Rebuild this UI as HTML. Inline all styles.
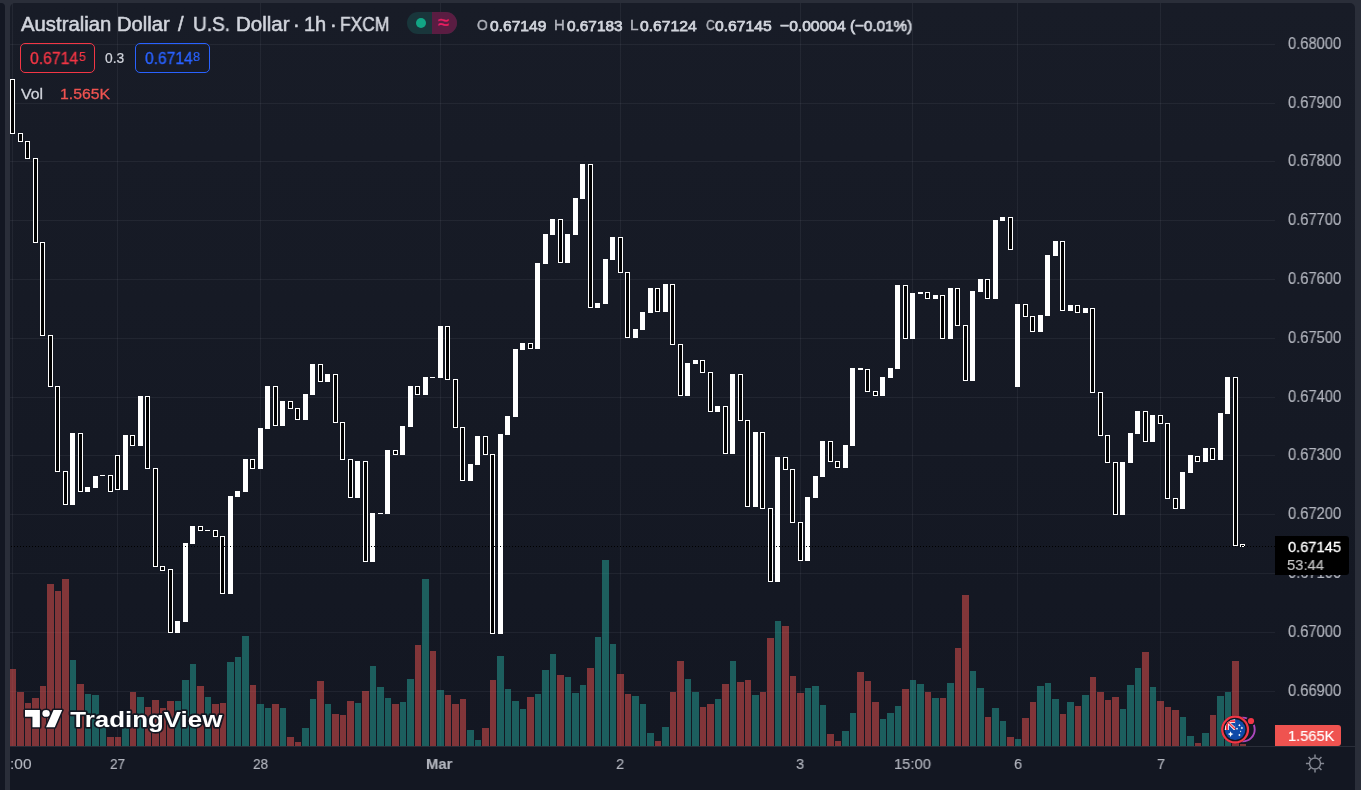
<!DOCTYPE html>
<html><head><meta charset="utf-8"><title>AUDUSD chart</title>
<style>
html,body{margin:0;padding:0}
body{width:1361px;height:790px;background:#2a2e39;overflow:hidden;position:relative;font-family:"Liberation Sans",sans-serif;color:#d1d4dc}
#left{position:absolute;left:0;top:3px;width:5px;height:787px;background:#131722;border-top-right-radius:4px}
#chart{position:absolute;left:10px;top:3px;width:1345px;height:787px;border-radius:5px 5px 0 0;overflow:hidden;background:linear-gradient(to bottom,#181c27 0px,#131722 743px,#131722 787px)}
#chart svg{position:absolute;left:-10px;top:-3px}
#sep{position:absolute;left:10px;top:746px;width:1345px;height:1px;background:#2a2e39}
.t{position:absolute;white-space:nowrap;transform-origin:0 0;display:block;will-change:transform}
#pill{position:absolute;left:407px;top:12px;width:50px;height:22px;border-radius:11px;overflow:hidden;background:#19363b}
#pill .r{position:absolute;left:25px;top:0;width:25px;height:22px;background:#5a1d42}
#pill .dot{position:absolute;left:9px;top:6px;width:10px;height:10px;border-radius:5px;background:#12a685}
#pill .ap{position:absolute;left:25px;top:0;width:23px;height:22px;text-align:center;font-size:20px;line-height:21px;color:#e91e63;-webkit-text-stroke:0.3px #e91e63}
.box{position:absolute;top:43px;height:28px;border:1px solid;border-radius:5px;box-sizing:content-box}
#bid{left:20px;width:73px;border-color:#f23645}
#ask{left:135px;width:73px;border-color:#2962ff}
#plabel{position:absolute;left:1275px;top:536px;width:74px;height:39px;background:#000;border-radius:0 3px 3px 0}
#vlabel{position:absolute;left:1275px;top:725px;width:66px;height:21px;background:#ef5350;border-radius:0 3px 3px 0}
</style></head><body>
<div id="left"></div>
<div id="chart">
<svg width="1361" height="790" viewBox="0 0 1361 790" shape-rendering="crispEdges">
<rect x="10" y="44" width="1265" height="1" fill="rgba(240,243,250,0.06)"/>
<rect x="10" y="103" width="1265" height="1" fill="rgba(240,243,250,0.06)"/>
<rect x="10" y="161" width="1265" height="1" fill="rgba(240,243,250,0.06)"/>
<rect x="10" y="220" width="1265" height="1" fill="rgba(240,243,250,0.06)"/>
<rect x="10" y="279" width="1265" height="1" fill="rgba(240,243,250,0.06)"/>
<rect x="10" y="338" width="1265" height="1" fill="rgba(240,243,250,0.06)"/>
<rect x="10" y="397" width="1265" height="1" fill="rgba(240,243,250,0.06)"/>
<rect x="10" y="455" width="1265" height="1" fill="rgba(240,243,250,0.06)"/>
<rect x="10" y="514" width="1265" height="1" fill="rgba(240,243,250,0.06)"/>
<rect x="10" y="573" width="1265" height="1" fill="rgba(240,243,250,0.06)"/>
<rect x="10" y="632" width="1265" height="1" fill="rgba(240,243,250,0.06)"/>
<rect x="10" y="691" width="1265" height="1" fill="rgba(240,243,250,0.06)"/>
<rect x="12" y="3" width="1" height="743" fill="rgba(240,243,250,0.06)"/>
<rect x="117" y="3" width="1" height="743" fill="rgba(240,243,250,0.06)"/>
<rect x="260" y="3" width="1" height="743" fill="rgba(240,243,250,0.06)"/>
<rect x="440" y="3" width="1" height="743" fill="rgba(240,243,250,0.06)"/>
<rect x="620" y="3" width="1" height="743" fill="rgba(240,243,250,0.06)"/>
<rect x="800" y="3" width="1" height="743" fill="rgba(240,243,250,0.06)"/>
<rect x="912" y="3" width="1" height="743" fill="rgba(240,243,250,0.06)"/>
<rect x="1017" y="3" width="1" height="743" fill="rgba(240,243,250,0.06)"/>
<rect x="1160" y="3" width="1" height="743" fill="rgba(240,243,250,0.06)"/>
<rect x="10" y="669" width="6" height="77" fill="#ef5350" fill-opacity="0.5"/>
<rect x="17" y="692" width="7" height="54" fill="#ef5350" fill-opacity="0.5"/>
<rect x="25" y="703" width="6" height="43" fill="#ef5350" fill-opacity="0.5"/>
<rect x="32" y="698" width="7" height="48" fill="#ef5350" fill-opacity="0.5"/>
<rect x="40" y="686" width="6" height="60" fill="#ef5350" fill-opacity="0.5"/>
<rect x="47" y="584" width="7" height="162" fill="#ef5350" fill-opacity="0.5"/>
<rect x="55" y="591" width="6" height="155" fill="#ef5350" fill-opacity="0.5"/>
<rect x="62" y="579" width="7" height="167" fill="#ef5350" fill-opacity="0.5"/>
<rect x="70" y="660" width="6" height="86" fill="#26a69a" fill-opacity="0.5"/>
<rect x="77" y="684" width="7" height="62" fill="#ef5350" fill-opacity="0.5"/>
<rect x="85" y="694" width="6" height="52" fill="#26a69a" fill-opacity="0.5"/>
<rect x="92" y="695" width="7" height="51" fill="#26a69a" fill-opacity="0.5"/>
<rect x="100" y="717" width="6" height="29" fill="#26a69a" fill-opacity="0.5"/>
<rect x="107" y="737" width="7" height="9" fill="#ef5350" fill-opacity="0.5"/>
<rect x="115" y="737" width="6" height="9" fill="#ef5350" fill-opacity="0.5"/>
<rect x="122" y="719" width="7" height="27" fill="#26a69a" fill-opacity="0.5"/>
<rect x="130" y="692" width="6" height="54" fill="#ef5350" fill-opacity="0.5"/>
<rect x="137" y="697" width="7" height="49" fill="#26a69a" fill-opacity="0.5"/>
<rect x="145" y="707" width="6" height="39" fill="#ef5350" fill-opacity="0.5"/>
<rect x="152" y="700" width="7" height="46" fill="#ef5350" fill-opacity="0.5"/>
<rect x="160" y="708" width="6" height="38" fill="#ef5350" fill-opacity="0.5"/>
<rect x="167" y="701" width="7" height="45" fill="#ef5350" fill-opacity="0.5"/>
<rect x="175" y="701" width="6" height="45" fill="#26a69a" fill-opacity="0.5"/>
<rect x="182" y="680" width="7" height="66" fill="#26a69a" fill-opacity="0.5"/>
<rect x="190" y="664" width="6" height="82" fill="#26a69a" fill-opacity="0.5"/>
<rect x="197" y="686" width="7" height="60" fill="#ef5350" fill-opacity="0.5"/>
<rect x="205" y="697" width="6" height="49" fill="#26a69a" fill-opacity="0.5"/>
<rect x="212" y="704" width="7" height="42" fill="#ef5350" fill-opacity="0.5"/>
<rect x="220" y="703" width="6" height="43" fill="#ef5350" fill-opacity="0.5"/>
<rect x="227" y="662" width="7" height="84" fill="#26a69a" fill-opacity="0.5"/>
<rect x="235" y="657" width="6" height="89" fill="#26a69a" fill-opacity="0.5"/>
<rect x="242" y="636" width="7" height="110" fill="#26a69a" fill-opacity="0.5"/>
<rect x="250" y="685" width="6" height="61" fill="#ef5350" fill-opacity="0.5"/>
<rect x="257" y="704" width="7" height="42" fill="#26a69a" fill-opacity="0.5"/>
<rect x="265" y="708" width="6" height="38" fill="#26a69a" fill-opacity="0.5"/>
<rect x="272" y="704" width="7" height="42" fill="#ef5350" fill-opacity="0.5"/>
<rect x="280" y="708" width="6" height="38" fill="#26a69a" fill-opacity="0.5"/>
<rect x="287" y="737" width="7" height="9" fill="#ef5350" fill-opacity="0.5"/>
<rect x="295" y="742" width="6" height="4" fill="#ef5350" fill-opacity="0.5"/>
<rect x="302" y="728" width="7" height="18" fill="#26a69a" fill-opacity="0.5"/>
<rect x="310" y="699" width="6" height="47" fill="#26a69a" fill-opacity="0.5"/>
<rect x="317" y="681" width="7" height="65" fill="#ef5350" fill-opacity="0.5"/>
<rect x="325" y="704" width="6" height="42" fill="#26a69a" fill-opacity="0.5"/>
<rect x="332" y="714" width="7" height="32" fill="#ef5350" fill-opacity="0.5"/>
<rect x="340" y="715" width="6" height="31" fill="#ef5350" fill-opacity="0.5"/>
<rect x="347" y="701" width="7" height="45" fill="#ef5350" fill-opacity="0.5"/>
<rect x="355" y="703" width="6" height="43" fill="#26a69a" fill-opacity="0.5"/>
<rect x="362" y="691" width="7" height="55" fill="#ef5350" fill-opacity="0.5"/>
<rect x="370" y="666" width="6" height="80" fill="#26a69a" fill-opacity="0.5"/>
<rect x="377" y="687" width="7" height="59" fill="#26a69a" fill-opacity="0.5"/>
<rect x="385" y="698" width="6" height="48" fill="#26a69a" fill-opacity="0.5"/>
<rect x="392" y="704" width="7" height="42" fill="#ef5350" fill-opacity="0.5"/>
<rect x="400" y="702" width="6" height="44" fill="#26a69a" fill-opacity="0.5"/>
<rect x="407" y="679" width="7" height="67" fill="#26a69a" fill-opacity="0.5"/>
<rect x="415" y="645" width="6" height="101" fill="#ef5350" fill-opacity="0.5"/>
<rect x="422" y="579" width="7" height="167" fill="#26a69a" fill-opacity="0.5"/>
<rect x="430" y="651" width="6" height="95" fill="#ef5350" fill-opacity="0.5"/>
<rect x="437" y="690" width="7" height="56" fill="#26a69a" fill-opacity="0.5"/>
<rect x="445" y="695" width="6" height="51" fill="#ef5350" fill-opacity="0.5"/>
<rect x="452" y="704" width="7" height="42" fill="#ef5350" fill-opacity="0.5"/>
<rect x="460" y="699" width="6" height="47" fill="#ef5350" fill-opacity="0.5"/>
<rect x="467" y="730" width="7" height="16" fill="#26a69a" fill-opacity="0.5"/>
<rect x="475" y="740" width="6" height="6" fill="#26a69a" fill-opacity="0.5"/>
<rect x="482" y="728" width="7" height="18" fill="#ef5350" fill-opacity="0.5"/>
<rect x="490" y="680" width="6" height="66" fill="#ef5350" fill-opacity="0.5"/>
<rect x="497" y="656" width="7" height="90" fill="#26a69a" fill-opacity="0.5"/>
<rect x="505" y="689" width="6" height="57" fill="#26a69a" fill-opacity="0.5"/>
<rect x="512" y="701" width="7" height="45" fill="#26a69a" fill-opacity="0.5"/>
<rect x="520" y="709" width="6" height="37" fill="#26a69a" fill-opacity="0.5"/>
<rect x="527" y="697" width="7" height="49" fill="#ef5350" fill-opacity="0.5"/>
<rect x="535" y="694" width="6" height="52" fill="#26a69a" fill-opacity="0.5"/>
<rect x="542" y="670" width="7" height="76" fill="#26a69a" fill-opacity="0.5"/>
<rect x="550" y="654" width="6" height="92" fill="#26a69a" fill-opacity="0.5"/>
<rect x="557" y="675" width="7" height="71" fill="#ef5350" fill-opacity="0.5"/>
<rect x="565" y="677" width="6" height="69" fill="#26a69a" fill-opacity="0.5"/>
<rect x="572" y="693" width="7" height="53" fill="#26a69a" fill-opacity="0.5"/>
<rect x="580" y="685" width="6" height="61" fill="#26a69a" fill-opacity="0.5"/>
<rect x="587" y="668" width="7" height="78" fill="#ef5350" fill-opacity="0.5"/>
<rect x="595" y="637" width="6" height="109" fill="#26a69a" fill-opacity="0.5"/>
<rect x="602" y="560" width="7" height="186" fill="#26a69a" fill-opacity="0.5"/>
<rect x="610" y="644" width="6" height="102" fill="#26a69a" fill-opacity="0.5"/>
<rect x="617" y="674" width="7" height="72" fill="#ef5350" fill-opacity="0.5"/>
<rect x="625" y="694" width="6" height="52" fill="#ef5350" fill-opacity="0.5"/>
<rect x="632" y="696" width="7" height="50" fill="#26a69a" fill-opacity="0.5"/>
<rect x="640" y="704" width="6" height="42" fill="#26a69a" fill-opacity="0.5"/>
<rect x="647" y="733" width="7" height="13" fill="#26a69a" fill-opacity="0.5"/>
<rect x="655" y="741" width="6" height="5" fill="#ef5350" fill-opacity="0.5"/>
<rect x="662" y="727" width="7" height="19" fill="#26a69a" fill-opacity="0.5"/>
<rect x="670" y="692" width="6" height="54" fill="#ef5350" fill-opacity="0.5"/>
<rect x="677" y="661" width="7" height="85" fill="#ef5350" fill-opacity="0.5"/>
<rect x="685" y="679" width="6" height="67" fill="#26a69a" fill-opacity="0.5"/>
<rect x="692" y="692" width="7" height="54" fill="#26a69a" fill-opacity="0.5"/>
<rect x="700" y="707" width="6" height="39" fill="#ef5350" fill-opacity="0.5"/>
<rect x="707" y="704" width="7" height="42" fill="#ef5350" fill-opacity="0.5"/>
<rect x="715" y="699" width="6" height="47" fill="#26a69a" fill-opacity="0.5"/>
<rect x="722" y="684" width="7" height="62" fill="#ef5350" fill-opacity="0.5"/>
<rect x="730" y="661" width="6" height="85" fill="#26a69a" fill-opacity="0.5"/>
<rect x="737" y="682" width="7" height="64" fill="#ef5350" fill-opacity="0.5"/>
<rect x="745" y="680" width="6" height="66" fill="#ef5350" fill-opacity="0.5"/>
<rect x="752" y="695" width="7" height="51" fill="#26a69a" fill-opacity="0.5"/>
<rect x="760" y="692" width="6" height="54" fill="#ef5350" fill-opacity="0.5"/>
<rect x="767" y="638" width="7" height="108" fill="#ef5350" fill-opacity="0.5"/>
<rect x="775" y="621" width="6" height="125" fill="#26a69a" fill-opacity="0.5"/>
<rect x="782" y="626" width="7" height="120" fill="#ef5350" fill-opacity="0.5"/>
<rect x="790" y="676" width="6" height="70" fill="#ef5350" fill-opacity="0.5"/>
<rect x="797" y="693" width="7" height="53" fill="#ef5350" fill-opacity="0.5"/>
<rect x="805" y="688" width="6" height="58" fill="#26a69a" fill-opacity="0.5"/>
<rect x="812" y="686" width="7" height="60" fill="#26a69a" fill-opacity="0.5"/>
<rect x="820" y="705" width="6" height="41" fill="#26a69a" fill-opacity="0.5"/>
<rect x="827" y="734" width="7" height="12" fill="#ef5350" fill-opacity="0.5"/>
<rect x="835" y="741" width="6" height="5" fill="#ef5350" fill-opacity="0.5"/>
<rect x="842" y="731" width="7" height="15" fill="#26a69a" fill-opacity="0.5"/>
<rect x="850" y="713" width="6" height="33" fill="#26a69a" fill-opacity="0.5"/>
<rect x="857" y="672" width="7" height="74" fill="#ef5350" fill-opacity="0.5"/>
<rect x="865" y="681" width="6" height="65" fill="#ef5350" fill-opacity="0.5"/>
<rect x="872" y="702" width="7" height="44" fill="#ef5350" fill-opacity="0.5"/>
<rect x="880" y="719" width="6" height="27" fill="#26a69a" fill-opacity="0.5"/>
<rect x="887" y="713" width="7" height="33" fill="#26a69a" fill-opacity="0.5"/>
<rect x="895" y="706" width="6" height="40" fill="#26a69a" fill-opacity="0.5"/>
<rect x="902" y="689" width="7" height="57" fill="#ef5350" fill-opacity="0.5"/>
<rect x="910" y="680" width="6" height="66" fill="#26a69a" fill-opacity="0.5"/>
<rect x="917" y="684" width="7" height="62" fill="#26a69a" fill-opacity="0.5"/>
<rect x="925" y="692" width="6" height="54" fill="#ef5350" fill-opacity="0.5"/>
<rect x="932" y="698" width="7" height="48" fill="#26a69a" fill-opacity="0.5"/>
<rect x="940" y="698" width="6" height="48" fill="#ef5350" fill-opacity="0.5"/>
<rect x="947" y="683" width="7" height="63" fill="#26a69a" fill-opacity="0.5"/>
<rect x="955" y="648" width="6" height="98" fill="#ef5350" fill-opacity="0.5"/>
<rect x="962" y="595" width="7" height="151" fill="#ef5350" fill-opacity="0.5"/>
<rect x="970" y="671" width="6" height="75" fill="#26a69a" fill-opacity="0.5"/>
<rect x="977" y="688" width="7" height="58" fill="#26a69a" fill-opacity="0.5"/>
<rect x="985" y="717" width="6" height="29" fill="#ef5350" fill-opacity="0.5"/>
<rect x="992" y="708" width="7" height="38" fill="#26a69a" fill-opacity="0.5"/>
<rect x="1000" y="721" width="6" height="25" fill="#26a69a" fill-opacity="0.5"/>
<rect x="1007" y="737" width="7" height="9" fill="#ef5350" fill-opacity="0.5"/>
<rect x="1015" y="739" width="6" height="7" fill="#26a69a" fill-opacity="0.5"/>
<rect x="1022" y="718" width="7" height="28" fill="#ef5350" fill-opacity="0.5"/>
<rect x="1030" y="702" width="6" height="44" fill="#ef5350" fill-opacity="0.5"/>
<rect x="1037" y="686" width="7" height="60" fill="#26a69a" fill-opacity="0.5"/>
<rect x="1045" y="683" width="6" height="63" fill="#26a69a" fill-opacity="0.5"/>
<rect x="1052" y="699" width="7" height="47" fill="#26a69a" fill-opacity="0.5"/>
<rect x="1060" y="714" width="6" height="32" fill="#ef5350" fill-opacity="0.5"/>
<rect x="1067" y="702" width="7" height="44" fill="#26a69a" fill-opacity="0.5"/>
<rect x="1075" y="706" width="6" height="40" fill="#ef5350" fill-opacity="0.5"/>
<rect x="1082" y="695" width="7" height="51" fill="#26a69a" fill-opacity="0.5"/>
<rect x="1090" y="677" width="6" height="69" fill="#ef5350" fill-opacity="0.5"/>
<rect x="1097" y="692" width="7" height="54" fill="#ef5350" fill-opacity="0.5"/>
<rect x="1105" y="700" width="6" height="46" fill="#ef5350" fill-opacity="0.5"/>
<rect x="1112" y="697" width="7" height="49" fill="#ef5350" fill-opacity="0.5"/>
<rect x="1120" y="709" width="6" height="37" fill="#26a69a" fill-opacity="0.5"/>
<rect x="1127" y="685" width="7" height="61" fill="#26a69a" fill-opacity="0.5"/>
<rect x="1135" y="668" width="6" height="78" fill="#26a69a" fill-opacity="0.5"/>
<rect x="1142" y="652" width="7" height="94" fill="#ef5350" fill-opacity="0.5"/>
<rect x="1150" y="687" width="6" height="59" fill="#26a69a" fill-opacity="0.5"/>
<rect x="1157" y="701" width="7" height="45" fill="#ef5350" fill-opacity="0.5"/>
<rect x="1165" y="707" width="6" height="39" fill="#ef5350" fill-opacity="0.5"/>
<rect x="1172" y="710" width="7" height="36" fill="#ef5350" fill-opacity="0.5"/>
<rect x="1180" y="717" width="6" height="29" fill="#26a69a" fill-opacity="0.5"/>
<rect x="1187" y="736" width="7" height="10" fill="#26a69a" fill-opacity="0.5"/>
<rect x="1195" y="743" width="6" height="3" fill="#ef5350" fill-opacity="0.5"/>
<rect x="1202" y="733" width="7" height="13" fill="#26a69a" fill-opacity="0.5"/>
<rect x="1210" y="715" width="6" height="31" fill="#ef5350" fill-opacity="0.5"/>
<rect x="1217" y="696" width="7" height="50" fill="#26a69a" fill-opacity="0.5"/>
<rect x="1225" y="692" width="6" height="54" fill="#26a69a" fill-opacity="0.5"/>
<rect x="1232" y="661" width="7" height="85" fill="#ef5350" fill-opacity="0.5"/>
<rect x="1240" y="744" width="6" height="2" fill="#ef5350" fill-opacity="0.5"/>
<rect x="10" y="79" width="5" height="55" fill="#fff"/>
<rect x="11" y="80" width="3" height="53" fill="#000"/>
<rect x="18" y="133" width="5" height="9" fill="#fff"/>
<rect x="19" y="134" width="3" height="7" fill="#000"/>
<rect x="25" y="141" width="5" height="18" fill="#fff"/>
<rect x="26" y="142" width="3" height="16" fill="#000"/>
<rect x="33" y="158" width="5" height="85" fill="#fff"/>
<rect x="34" y="159" width="3" height="83" fill="#000"/>
<rect x="40" y="242" width="5" height="94" fill="#fff"/>
<rect x="41" y="243" width="3" height="92" fill="#000"/>
<rect x="48" y="335" width="5" height="52" fill="#fff"/>
<rect x="49" y="336" width="3" height="50" fill="#000"/>
<rect x="55" y="386" width="5" height="86" fill="#fff"/>
<rect x="56" y="387" width="3" height="84" fill="#000"/>
<rect x="63" y="471" width="5" height="34" fill="#fff"/>
<rect x="64" y="472" width="3" height="32" fill="#000"/>
<rect x="70" y="433" width="5" height="72" fill="#fff"/>
<rect x="78" y="433" width="5" height="59" fill="#fff"/>
<rect x="79" y="434" width="3" height="57" fill="#000"/>
<rect x="85" y="487" width="5" height="5" fill="#fff"/>
<rect x="93" y="476" width="5" height="12" fill="#fff"/>
<rect x="100" y="475" width="5" height="1" fill="#fff"/>
<rect x="108" y="475" width="5" height="17" fill="#fff"/>
<rect x="109" y="476" width="3" height="15" fill="#000"/>
<rect x="115" y="455" width="5" height="35" fill="#fff"/>
<rect x="116" y="456" width="3" height="33" fill="#000"/>
<rect x="123" y="435" width="5" height="55" fill="#fff"/>
<rect x="130" y="435" width="5" height="11" fill="#fff"/>
<rect x="131" y="436" width="3" height="9" fill="#000"/>
<rect x="138" y="396" width="5" height="50" fill="#fff"/>
<rect x="145" y="396" width="5" height="73" fill="#fff"/>
<rect x="146" y="397" width="3" height="71" fill="#000"/>
<rect x="153" y="468" width="5" height="99" fill="#fff"/>
<rect x="154" y="469" width="3" height="97" fill="#000"/>
<rect x="160" y="566" width="5" height="5" fill="#fff"/>
<rect x="161" y="567" width="3" height="3" fill="#000"/>
<rect x="168" y="569" width="5" height="64" fill="#fff"/>
<rect x="169" y="570" width="3" height="62" fill="#000"/>
<rect x="175" y="621" width="5" height="12" fill="#fff"/>
<rect x="183" y="543" width="5" height="79" fill="#fff"/>
<rect x="190" y="526" width="5" height="18" fill="#fff"/>
<rect x="198" y="526" width="5" height="5" fill="#fff"/>
<rect x="199" y="527" width="3" height="3" fill="#000"/>
<rect x="205" y="530" width="5" height="1" fill="#fff"/>
<rect x="213" y="530" width="5" height="7" fill="#fff"/>
<rect x="214" y="531" width="3" height="5" fill="#000"/>
<rect x="220" y="536" width="5" height="58" fill="#fff"/>
<rect x="221" y="537" width="3" height="56" fill="#000"/>
<rect x="228" y="496" width="5" height="98" fill="#fff"/>
<rect x="235" y="491" width="5" height="6" fill="#fff"/>
<rect x="243" y="459" width="5" height="33" fill="#fff"/>
<rect x="250" y="459" width="5" height="10" fill="#fff"/>
<rect x="251" y="460" width="3" height="8" fill="#000"/>
<rect x="258" y="428" width="5" height="41" fill="#fff"/>
<rect x="265" y="386" width="5" height="43" fill="#fff"/>
<rect x="273" y="386" width="5" height="40" fill="#fff"/>
<rect x="274" y="387" width="3" height="38" fill="#000"/>
<rect x="280" y="401" width="5" height="25" fill="#fff"/>
<rect x="288" y="401" width="5" height="8" fill="#fff"/>
<rect x="289" y="402" width="3" height="6" fill="#000"/>
<rect x="295" y="408" width="5" height="12" fill="#fff"/>
<rect x="296" y="409" width="3" height="10" fill="#000"/>
<rect x="303" y="394" width="5" height="26" fill="#fff"/>
<rect x="310" y="364" width="5" height="31" fill="#fff"/>
<rect x="318" y="364" width="5" height="18" fill="#fff"/>
<rect x="319" y="365" width="3" height="16" fill="#000"/>
<rect x="325" y="374" width="5" height="8" fill="#fff"/>
<rect x="333" y="374" width="5" height="49" fill="#fff"/>
<rect x="334" y="375" width="3" height="47" fill="#000"/>
<rect x="340" y="422" width="5" height="38" fill="#fff"/>
<rect x="341" y="423" width="3" height="36" fill="#000"/>
<rect x="348" y="459" width="5" height="39" fill="#fff"/>
<rect x="349" y="460" width="3" height="37" fill="#000"/>
<rect x="355" y="461" width="5" height="37" fill="#fff"/>
<rect x="363" y="461" width="5" height="101" fill="#fff"/>
<rect x="364" y="462" width="3" height="99" fill="#000"/>
<rect x="370" y="513" width="5" height="49" fill="#fff"/>
<rect x="378" y="513" width="5" height="1" fill="#fff"/>
<rect x="385" y="450" width="5" height="64" fill="#fff"/>
<rect x="393" y="450" width="5" height="5" fill="#fff"/>
<rect x="394" y="451" width="3" height="3" fill="#000"/>
<rect x="400" y="426" width="5" height="29" fill="#fff"/>
<rect x="408" y="386" width="5" height="41" fill="#fff"/>
<rect x="415" y="386" width="5" height="9" fill="#fff"/>
<rect x="416" y="387" width="3" height="7" fill="#000"/>
<rect x="423" y="377" width="5" height="18" fill="#fff"/>
<rect x="430" y="377" width="5" height="1" fill="#fff"/>
<rect x="438" y="326" width="5" height="52" fill="#fff"/>
<rect x="445" y="326" width="5" height="54" fill="#fff"/>
<rect x="446" y="327" width="3" height="52" fill="#000"/>
<rect x="453" y="379" width="5" height="49" fill="#fff"/>
<rect x="454" y="380" width="3" height="47" fill="#000"/>
<rect x="460" y="427" width="5" height="54" fill="#fff"/>
<rect x="461" y="428" width="3" height="52" fill="#000"/>
<rect x="468" y="464" width="5" height="17" fill="#fff"/>
<rect x="475" y="436" width="5" height="29" fill="#fff"/>
<rect x="483" y="436" width="5" height="19" fill="#fff"/>
<rect x="484" y="437" width="3" height="17" fill="#000"/>
<rect x="490" y="454" width="5" height="180" fill="#fff"/>
<rect x="491" y="455" width="3" height="178" fill="#000"/>
<rect x="498" y="434" width="5" height="200" fill="#fff"/>
<rect x="505" y="416" width="5" height="19" fill="#fff"/>
<rect x="513" y="349" width="5" height="68" fill="#fff"/>
<rect x="520" y="343" width="5" height="7" fill="#fff"/>
<rect x="528" y="343" width="5" height="6" fill="#fff"/>
<rect x="529" y="344" width="3" height="4" fill="#000"/>
<rect x="535" y="263" width="5" height="86" fill="#fff"/>
<rect x="543" y="234" width="5" height="30" fill="#fff"/>
<rect x="550" y="219" width="5" height="16" fill="#fff"/>
<rect x="558" y="219" width="5" height="44" fill="#fff"/>
<rect x="559" y="220" width="3" height="42" fill="#000"/>
<rect x="565" y="234" width="5" height="29" fill="#fff"/>
<rect x="573" y="198" width="5" height="37" fill="#fff"/>
<rect x="580" y="164" width="5" height="35" fill="#fff"/>
<rect x="588" y="164" width="5" height="144" fill="#fff"/>
<rect x="589" y="165" width="3" height="142" fill="#000"/>
<rect x="595" y="303" width="5" height="5" fill="#fff"/>
<rect x="603" y="259" width="5" height="45" fill="#fff"/>
<rect x="610" y="237" width="5" height="23" fill="#fff"/>
<rect x="618" y="237" width="5" height="36" fill="#fff"/>
<rect x="619" y="238" width="3" height="34" fill="#000"/>
<rect x="625" y="272" width="5" height="66" fill="#fff"/>
<rect x="626" y="273" width="3" height="64" fill="#000"/>
<rect x="633" y="329" width="5" height="9" fill="#fff"/>
<rect x="640" y="312" width="5" height="18" fill="#fff"/>
<rect x="648" y="288" width="5" height="25" fill="#fff"/>
<rect x="655" y="288" width="5" height="24" fill="#fff"/>
<rect x="656" y="289" width="3" height="22" fill="#000"/>
<rect x="663" y="284" width="5" height="28" fill="#fff"/>
<rect x="670" y="284" width="5" height="61" fill="#fff"/>
<rect x="671" y="285" width="3" height="59" fill="#000"/>
<rect x="678" y="344" width="5" height="52" fill="#fff"/>
<rect x="679" y="345" width="3" height="50" fill="#000"/>
<rect x="685" y="363" width="5" height="33" fill="#fff"/>
<rect x="693" y="360" width="5" height="4" fill="#fff"/>
<rect x="700" y="360" width="5" height="13" fill="#fff"/>
<rect x="701" y="361" width="3" height="11" fill="#000"/>
<rect x="708" y="372" width="5" height="40" fill="#fff"/>
<rect x="709" y="373" width="3" height="38" fill="#000"/>
<rect x="715" y="406" width="5" height="6" fill="#fff"/>
<rect x="723" y="406" width="5" height="48" fill="#fff"/>
<rect x="724" y="407" width="3" height="46" fill="#000"/>
<rect x="730" y="374" width="5" height="80" fill="#fff"/>
<rect x="738" y="374" width="5" height="47" fill="#fff"/>
<rect x="739" y="375" width="3" height="45" fill="#000"/>
<rect x="745" y="420" width="5" height="87" fill="#fff"/>
<rect x="746" y="421" width="3" height="85" fill="#000"/>
<rect x="753" y="432" width="5" height="75" fill="#fff"/>
<rect x="760" y="432" width="5" height="77" fill="#fff"/>
<rect x="761" y="433" width="3" height="75" fill="#000"/>
<rect x="768" y="508" width="5" height="74" fill="#fff"/>
<rect x="769" y="509" width="3" height="72" fill="#000"/>
<rect x="775" y="457" width="5" height="125" fill="#fff"/>
<rect x="783" y="457" width="5" height="13" fill="#fff"/>
<rect x="784" y="458" width="3" height="11" fill="#000"/>
<rect x="790" y="469" width="5" height="54" fill="#fff"/>
<rect x="791" y="470" width="3" height="52" fill="#000"/>
<rect x="798" y="522" width="5" height="39" fill="#fff"/>
<rect x="799" y="523" width="3" height="37" fill="#000"/>
<rect x="805" y="497" width="5" height="64" fill="#fff"/>
<rect x="813" y="476" width="5" height="22" fill="#fff"/>
<rect x="820" y="441" width="5" height="36" fill="#fff"/>
<rect x="828" y="441" width="5" height="21" fill="#fff"/>
<rect x="829" y="442" width="3" height="19" fill="#000"/>
<rect x="835" y="461" width="5" height="7" fill="#fff"/>
<rect x="836" y="462" width="3" height="5" fill="#000"/>
<rect x="843" y="445" width="5" height="23" fill="#fff"/>
<rect x="850" y="368" width="5" height="78" fill="#fff"/>
<rect x="858" y="368" width="5" height="2" fill="#fff"/>
<rect x="865" y="369" width="5" height="23" fill="#fff"/>
<rect x="866" y="370" width="3" height="21" fill="#000"/>
<rect x="873" y="391" width="5" height="5" fill="#fff"/>
<rect x="874" y="392" width="3" height="3" fill="#000"/>
<rect x="880" y="377" width="5" height="19" fill="#fff"/>
<rect x="888" y="368" width="5" height="10" fill="#fff"/>
<rect x="895" y="285" width="5" height="84" fill="#fff"/>
<rect x="903" y="285" width="5" height="54" fill="#fff"/>
<rect x="904" y="286" width="3" height="52" fill="#000"/>
<rect x="910" y="293" width="5" height="46" fill="#fff"/>
<rect x="918" y="292" width="5" height="2" fill="#fff"/>
<rect x="925" y="292" width="5" height="7" fill="#fff"/>
<rect x="926" y="293" width="3" height="5" fill="#000"/>
<rect x="933" y="295" width="5" height="4" fill="#fff"/>
<rect x="940" y="295" width="5" height="44" fill="#fff"/>
<rect x="941" y="296" width="3" height="42" fill="#000"/>
<rect x="948" y="288" width="5" height="51" fill="#fff"/>
<rect x="955" y="288" width="5" height="38" fill="#fff"/>
<rect x="956" y="289" width="3" height="36" fill="#000"/>
<rect x="963" y="325" width="5" height="56" fill="#fff"/>
<rect x="964" y="326" width="3" height="54" fill="#000"/>
<rect x="970" y="291" width="5" height="90" fill="#fff"/>
<rect x="978" y="279" width="5" height="13" fill="#fff"/>
<rect x="985" y="279" width="5" height="20" fill="#fff"/>
<rect x="986" y="280" width="3" height="18" fill="#000"/>
<rect x="993" y="220" width="5" height="79" fill="#fff"/>
<rect x="1000" y="217" width="5" height="4" fill="#fff"/>
<rect x="1008" y="217" width="5" height="33" fill="#fff"/>
<rect x="1009" y="218" width="3" height="31" fill="#000"/>
<rect x="1015" y="304" width="5" height="83" fill="#fff"/>
<rect x="1023" y="304" width="5" height="13" fill="#fff"/>
<rect x="1024" y="305" width="3" height="11" fill="#000"/>
<rect x="1030" y="316" width="5" height="16" fill="#fff"/>
<rect x="1031" y="317" width="3" height="14" fill="#000"/>
<rect x="1038" y="315" width="5" height="17" fill="#fff"/>
<rect x="1045" y="255" width="5" height="61" fill="#fff"/>
<rect x="1053" y="241" width="5" height="15" fill="#fff"/>
<rect x="1060" y="241" width="5" height="70" fill="#fff"/>
<rect x="1061" y="242" width="3" height="68" fill="#000"/>
<rect x="1068" y="305" width="5" height="6" fill="#fff"/>
<rect x="1075" y="305" width="5" height="8" fill="#fff"/>
<rect x="1076" y="306" width="3" height="6" fill="#000"/>
<rect x="1083" y="308" width="5" height="5" fill="#fff"/>
<rect x="1090" y="308" width="5" height="85" fill="#fff"/>
<rect x="1091" y="309" width="3" height="83" fill="#000"/>
<rect x="1098" y="392" width="5" height="44" fill="#fff"/>
<rect x="1099" y="393" width="3" height="42" fill="#000"/>
<rect x="1105" y="435" width="5" height="28" fill="#fff"/>
<rect x="1106" y="436" width="3" height="26" fill="#000"/>
<rect x="1113" y="462" width="5" height="53" fill="#fff"/>
<rect x="1114" y="463" width="3" height="51" fill="#000"/>
<rect x="1120" y="462" width="5" height="53" fill="#fff"/>
<rect x="1128" y="433" width="5" height="30" fill="#fff"/>
<rect x="1135" y="411" width="5" height="23" fill="#fff"/>
<rect x="1143" y="411" width="5" height="31" fill="#fff"/>
<rect x="1144" y="412" width="3" height="29" fill="#000"/>
<rect x="1150" y="415" width="5" height="27" fill="#fff"/>
<rect x="1158" y="415" width="5" height="9" fill="#fff"/>
<rect x="1159" y="416" width="3" height="7" fill="#000"/>
<rect x="1165" y="423" width="5" height="76" fill="#fff"/>
<rect x="1166" y="424" width="3" height="74" fill="#000"/>
<rect x="1173" y="498" width="5" height="11" fill="#fff"/>
<rect x="1174" y="499" width="3" height="9" fill="#000"/>
<rect x="1180" y="472" width="5" height="37" fill="#fff"/>
<rect x="1188" y="455" width="5" height="18" fill="#fff"/>
<rect x="1195" y="456" width="5" height="6" fill="#fff"/>
<rect x="1196" y="457" width="3" height="4" fill="#000"/>
<rect x="1203" y="448" width="5" height="14" fill="#fff"/>
<rect x="1210" y="448" width="5" height="12" fill="#fff"/>
<rect x="1211" y="449" width="3" height="10" fill="#000"/>
<rect x="1218" y="413" width="5" height="47" fill="#fff"/>
<rect x="1225" y="377" width="5" height="37" fill="#fff"/>
<rect x="1233" y="377" width="5" height="169" fill="#fff"/>
<rect x="1234" y="378" width="3" height="167" fill="#000"/>
<rect x="1240" y="544" width="5" height="3" fill="#fff"/>
<rect x="1241" y="545" width="3" height="1" fill="#000"/>
<line x1="10.5" y1="546.5" x2="1275" y2="546.5" stroke="#000" stroke-width="1" stroke-dasharray="1 2"/>
</svg>
</div>
<div id="sep"></div>
<span class="t" style="left:1287.90px;top:34.10px;font-size:15.6px;line-height:19px;color:#b2b5be;font-weight:normal;transform:scale(0.9429,1.000);-webkit-text-stroke:0.15px #b2b5be;">0.68000</span>
<span class="t" style="left:1287.90px;top:93.10px;font-size:15.6px;line-height:19px;color:#b2b5be;font-weight:normal;transform:scale(0.9429,1.000);-webkit-text-stroke:0.15px #b2b5be;">0.67900</span>
<span class="t" style="left:1287.90px;top:151.10px;font-size:15.6px;line-height:19px;color:#b2b5be;font-weight:normal;transform:scale(0.9429,1.000);-webkit-text-stroke:0.15px #b2b5be;">0.67800</span>
<span class="t" style="left:1287.90px;top:210.10px;font-size:15.6px;line-height:19px;color:#b2b5be;font-weight:normal;transform:scale(0.9429,1.000);-webkit-text-stroke:0.15px #b2b5be;">0.67700</span>
<span class="t" style="left:1287.90px;top:269.10px;font-size:15.6px;line-height:19px;color:#b2b5be;font-weight:normal;transform:scale(0.9429,1.000);-webkit-text-stroke:0.15px #b2b5be;">0.67600</span>
<span class="t" style="left:1287.90px;top:328.10px;font-size:15.6px;line-height:19px;color:#b2b5be;font-weight:normal;transform:scale(0.9429,1.000);-webkit-text-stroke:0.15px #b2b5be;">0.67500</span>
<span class="t" style="left:1287.90px;top:387.10px;font-size:15.6px;line-height:19px;color:#b2b5be;font-weight:normal;transform:scale(0.9429,1.000);-webkit-text-stroke:0.15px #b2b5be;">0.67400</span>
<span class="t" style="left:1287.90px;top:445.10px;font-size:15.6px;line-height:19px;color:#b2b5be;font-weight:normal;transform:scale(0.9429,1.000);-webkit-text-stroke:0.15px #b2b5be;">0.67300</span>
<span class="t" style="left:1287.90px;top:504.10px;font-size:15.6px;line-height:19px;color:#b2b5be;font-weight:normal;transform:scale(0.9429,1.000);-webkit-text-stroke:0.15px #b2b5be;">0.67200</span>
<span class="t" style="left:1287.90px;top:563.10px;font-size:15.6px;line-height:19px;color:#b2b5be;font-weight:normal;transform:scale(0.9429,1.000);-webkit-text-stroke:0.15px #b2b5be;">0.67100</span>
<span class="t" style="left:1287.90px;top:622.10px;font-size:15.6px;line-height:19px;color:#b2b5be;font-weight:normal;transform:scale(0.9429,1.000);-webkit-text-stroke:0.15px #b2b5be;">0.67000</span>
<span class="t" style="left:1287.90px;top:681.10px;font-size:15.6px;line-height:19px;color:#b2b5be;font-weight:normal;transform:scale(0.9429,1.000);-webkit-text-stroke:0.15px #b2b5be;">0.66900</span>
<div id="pill"><div class="r"></div><div class="dot"></div><div class="ap">≈</div></div>
<div id="bid" class="box"></div>
<div id="ask" class="box"></div>
<div id="plabel"></div>
<div id="vlabel"></div>
<span class="t" style="left:21.00px;top:12.10px;font-size:20px;line-height:24px;color:#d1d4dc;font-weight:normal;transform:scale(1.0159,1.000);-webkit-text-stroke:0.55px #d1d4dc;">Australian</span>
<span class="t" style="left:116.99px;top:12.10px;font-size:20px;line-height:24px;color:#d1d4dc;font-weight:normal;transform:scale(1.0078,1.000);-webkit-text-stroke:0.55px #d1d4dc;">Dollar</span>
<span class="t" style="left:178.30px;top:12.10px;font-size:20px;line-height:24px;color:#d1d4dc;font-weight:normal;transform:scale(1.0000,1.000);-webkit-text-stroke:0.55px #d1d4dc;">/</span>
<span class="t" style="left:192.75px;top:12.10px;font-size:20px;line-height:24px;color:#d1d4dc;font-weight:normal;transform:scale(0.9528,1.000);-webkit-text-stroke:0.55px #d1d4dc;">U.S.</span>
<span class="t" style="left:235.67px;top:12.10px;font-size:20px;line-height:24px;color:#d1d4dc;font-weight:normal;transform:scale(1.0255,1.000);-webkit-text-stroke:0.55px #d1d4dc;">Dollar</span>
<span class="t" style="left:292.50px;top:12.10px;font-size:20px;line-height:24px;color:#d1d4dc;font-weight:normal;transform:scale(1.0000,1.000);-webkit-text-stroke:0.55px #d1d4dc;">·</span>
<span class="t" style="left:304.00px;top:12.10px;font-size:20px;line-height:24px;color:#d1d4dc;font-weight:normal;transform:scale(1.0000,1.000);-webkit-text-stroke:0.55px #d1d4dc;">1h</span>
<span class="t" style="left:329.50px;top:12.10px;font-size:20px;line-height:24px;color:#d1d4dc;font-weight:normal;transform:scale(1.0000,1.000);-webkit-text-stroke:0.55px #d1d4dc;">·</span>
<span class="t" style="left:340.13px;top:12.10px;font-size:20px;line-height:24px;color:#d1d4dc;font-weight:normal;transform:scale(0.8704,1.000);-webkit-text-stroke:0.55px #d1d4dc;">FXCM</span>
<span class="t" style="left:477.20px;top:16.20px;font-size:14.9px;line-height:18px;color:#b2b5be;font-weight:normal;transform:scale(0.9273,1.000);-webkit-text-stroke:0.45px #b2b5be;">O</span>
<span class="t" style="left:489.70px;top:16.60px;font-size:15.3px;line-height:18px;color:#d1d4dc;font-weight:normal;transform:scale(1.0182,1.000);-webkit-text-stroke:0.75px #d1d4dc;">0.67149</span>
<span class="t" style="left:553.70px;top:16.20px;font-size:14.9px;line-height:18px;color:#b2b5be;font-weight:normal;transform:scale(1.0000,1.000);-webkit-text-stroke:0.45px #b2b5be;">H</span>
<span class="t" style="left:566.60px;top:16.60px;font-size:15.3px;line-height:18px;color:#d1d4dc;font-weight:normal;transform:scale(1.0036,1.000);-webkit-text-stroke:0.75px #d1d4dc;">0.67183</span>
<span class="t" style="left:630.47px;top:16.20px;font-size:14.9px;line-height:18px;color:#b2b5be;font-weight:normal;transform:scale(1.0286,1.000);-webkit-text-stroke:0.45px #b2b5be;">L</span>
<span class="t" style="left:640.30px;top:16.60px;font-size:15.3px;line-height:18px;color:#d1d4dc;font-weight:normal;transform:scale(1.0255,1.000);-webkit-text-stroke:0.75px #d1d4dc;">0.67124</span>
<span class="t" style="left:705.50px;top:16.20px;font-size:14.9px;line-height:18px;color:#b2b5be;font-weight:normal;transform:scale(0.8200,1.000);-webkit-text-stroke:0.45px #b2b5be;">C</span>
<span class="t" style="left:715.20px;top:16.60px;font-size:15.3px;line-height:18px;color:#d1d4dc;font-weight:normal;transform:scale(1.0255,1.000);-webkit-text-stroke:0.75px #d1d4dc;">0.67145</span>
<span class="t" style="left:779.88px;top:16.60px;font-size:15.3px;line-height:18px;color:#d1d4dc;font-weight:normal;transform:scale(1.0222,1.000);-webkit-text-stroke:0.75px #d1d4dc;">−0.00004</span>
<span class="t" style="left:850.41px;top:16.60px;font-size:15.3px;line-height:18px;color:#d1d4dc;font-weight:normal;transform:scale(0.9934,1.000);-webkit-text-stroke:0.75px #d1d4dc;">(−0.01%)</span>
<span class="t" style="left:30.10px;top:48.80px;font-size:16px;line-height:19px;color:#f23645;font-weight:normal;transform:scale(0.9837,1.000);-webkit-text-stroke:0.35px #f23645;">0.6714</span>
<span class="t" style="left:79.40px;top:49.20px;font-size:13px;line-height:16px;color:#f23645;font-weight:normal;transform:scale(0.9429,1.000);-webkit-text-stroke:0.2px #f23645;">5</span>
<span class="t" style="left:105.20px;top:50.20px;font-size:13.75px;line-height:17px;color:#d1d4dc;font-weight:normal;transform:scale(1.0053,1.000);-webkit-text-stroke:0.2px #d1d4dc;">0.3</span>
<span class="t" style="left:144.50px;top:48.80px;font-size:16px;line-height:19px;color:#2962ff;font-weight:normal;transform:scale(0.9735,1.000);-webkit-text-stroke:0.35px #2962ff;">0.6714</span>
<span class="t" style="left:193.20px;top:49.20px;font-size:13px;line-height:16px;color:#2962ff;font-weight:normal;transform:scale(0.9714,1.000);-webkit-text-stroke:0.2px #2962ff;">8</span>
<span class="t" style="left:21.20px;top:85.00px;font-size:15.3px;line-height:18px;color:#d1d4dc;font-weight:normal;transform:scale(1.0333,1.000);-webkit-text-stroke:0.3px #d1d4dc;">Vol</span>
<span class="t" style="left:60.17px;top:85.00px;font-size:15.3px;line-height:18px;color:#ef5350;font-weight:normal;transform:scale(1.0319,1.000);-webkit-text-stroke:0.3px #ef5350;">1.565K</span>
<span class="t" style="left:1288.00px;top:537.50px;font-size:15px;line-height:18px;color:#fff;font-weight:normal;transform:scale(0.9759,1.000);-webkit-text-stroke:0.3px #fff;">0.67145</span>
<span class="t" style="left:1287.42px;top:556.00px;font-size:15px;line-height:18px;color:#c4c4c4;font-weight:normal;transform:scale(0.9838,1.000);-webkit-text-stroke:0.15px #c4c4c4;">53:44</span>
<span class="t" style="left:1287.82px;top:726.70px;font-size:15px;line-height:18px;color:#fff;font-weight:normal;transform:scale(0.9761,1.000);-webkit-text-stroke:0.15px #fff;">1.565K</span>
<span class="t" style="left:10.01px;top:754.00px;font-size:15.5px;line-height:19px;color:#b2b5be;font-weight:normal;transform:scale(0.9950,1.000);-webkit-text-stroke:0.15px #b2b5be;">:00</span>
<span class="t" style="left:110.00px;top:754.00px;font-size:15.5px;line-height:19px;color:#b2b5be;font-weight:normal;transform:scale(0.8824,1.000);-webkit-text-stroke:0.15px #b2b5be;">27</span>
<span class="t" style="left:253.00px;top:754.00px;font-size:15.5px;line-height:19px;color:#b2b5be;font-weight:normal;transform:scale(0.8824,1.000);-webkit-text-stroke:0.15px #b2b5be;">28</span>
<span class="t" style="left:426.04px;top:754.00px;font-size:15.5px;line-height:19px;color:#b2b5be;font-weight:bold;transform:scale(0.9556,1.000);-webkit-text-stroke:0.15px #b2b5be;">Mar</span>
<span class="t" style="left:616.00px;top:754.00px;font-size:15.5px;line-height:19px;color:#b2b5be;font-weight:normal;transform:scale(0.9375,1.000);-webkit-text-stroke:0.15px #b2b5be;">2</span>
<span class="t" style="left:796.00px;top:754.00px;font-size:15.5px;line-height:19px;color:#b2b5be;font-weight:normal;transform:scale(0.9375,1.000);-webkit-text-stroke:0.15px #b2b5be;">3</span>
<span class="t" style="left:893.85px;top:754.00px;font-size:15.5px;line-height:19px;color:#b2b5be;font-weight:normal;transform:scale(0.9526,1.000);-webkit-text-stroke:0.15px #b2b5be;">15:00</span>
<span class="t" style="left:1013.50px;top:754.00px;font-size:15.5px;line-height:19px;color:#b2b5be;font-weight:normal;transform:scale(0.9375,1.000);-webkit-text-stroke:0.15px #b2b5be;">6</span>
<span class="t" style="left:1156.50px;top:754.00px;font-size:15.5px;line-height:19px;color:#b2b5be;font-weight:normal;transform:scale(0.9375,1.000);-webkit-text-stroke:0.15px #b2b5be;">7</span>
<svg style="position:absolute;left:0;top:690px;will-change:transform" width="260" height="56" viewBox="0 690 260 56">
<g transform="translate(22.52 702.94) scale(1.24 1.16)"><path d="M14 6H2v6h6v9h6V6Zm12 15h-7l6-15h7l-6 15Zm-7-9a3 3 0 1 0 0-6 3 3 0 0 0 0 6Z" fill="#fff" stroke="#131722" stroke-width="2.6" stroke-linejoin="round" paint-order="stroke"/></g>
<text x="70.3" y="727.3" font-family="Liberation Sans, sans-serif" font-size="22.9" font-weight="bold" textLength="152" lengthAdjust="spacingAndGlyphs" fill="#fff" stroke="#131722" stroke-width="3.4" stroke-linejoin="round" paint-order="stroke">TradingView</text>
</svg>
<svg style="position:absolute;left:1210px;top:705px" width="60" height="45" viewBox="1210 705 60 45">
<defs><clipPath id="fc"><circle cx="1235.1" cy="729.6" r="10.3"/></clipPath></defs>
<circle cx="1242.8" cy="729.5" r="11.9" fill="none" stroke="#ab47bc" stroke-width="1.9"/>
<circle cx="1251" cy="721" r="4.8" fill="#131722"/>
<circle cx="1251" cy="721" r="3.1" fill="#f23645"/>
<circle cx="1235.1" cy="729.6" r="14" fill="#131722"/>
<circle cx="1235.1" cy="729.6" r="12.9" fill="#131722" stroke="#f23645" stroke-width="2.3"/>
<g clip-path="url(#fc)">
<rect x="1224.1" y="718.6" width="22" height="22" fill="#0f4aa8"/>
<rect x="1224.1" y="718.6" width="11" height="11.4" fill="#fff"/>
<polygon points="1230.6,723.0 1235.1,723.0 1235.1,727.0" fill="#0f4aa8"/>
<polygon points="1228.8999999999999,725.0 1228.8999999999999,730.0 1233.6999999999998,730.0" fill="#0f4aa8"/>
<line x1="1227.1" y1="721.2" x2="1235.1" y2="729.0" stroke="#f23645" stroke-width="1.5"/>
<rect x="1225.8999999999999" y="719.6" width="2.2" height="10.4" fill="#f23645"/>
<rect x="1225.1" y="720.2" width="10" height="2" fill="#f23645"/>
<polygon points="1230.60,731.20 1231.46,733.24 1233.50,734.10 1231.46,734.96 1230.60,737.00 1229.74,734.96 1227.70,734.10 1229.74,733.24" fill="#fff"/>
<polygon points="1239.40,723.90 1239.91,724.69 1240.70,725.20 1239.91,725.71 1239.40,726.50 1238.89,725.71 1238.10,725.20 1238.89,724.69" fill="#fff"/>
<polygon points="1241.90,726.60 1242.41,727.39 1243.20,727.90 1242.41,728.41 1241.90,729.20 1241.39,728.41 1240.60,727.90 1241.39,727.39" fill="#fff"/>
<polygon points="1237.00,727.50 1237.47,728.23 1238.20,728.70 1237.47,729.17 1237.00,729.90 1236.53,729.17 1235.80,728.70 1236.53,728.23" fill="#fff"/>
<polygon points="1239.40,733.70 1239.91,734.49 1240.70,735.00 1239.91,735.51 1239.40,736.30 1238.89,735.51 1238.10,735.00 1238.89,734.49" fill="#fff"/>
<polygon points="1240.60,730.60 1240.91,731.09 1241.40,731.40 1240.91,731.71 1240.60,732.20 1240.29,731.71 1239.80,731.40 1240.29,731.09" fill="#fff"/>
</g></svg>
<svg style="position:absolute;left:1300px;top:750px" width="30" height="28" viewBox="1300 750 30 28">
<circle cx="1315" cy="763.5" r="5.5" fill="none" stroke="#858893" stroke-width="1.4"/>
<line x1="1321.00" y1="763.50" x2="1324.10" y2="763.50" stroke="#858893" stroke-width="1.5"/>
<line x1="1319.24" y1="767.74" x2="1321.43" y2="769.93" stroke="#858893" stroke-width="1.5"/>
<line x1="1315.00" y1="769.50" x2="1315.00" y2="772.60" stroke="#858893" stroke-width="1.5"/>
<line x1="1310.76" y1="767.74" x2="1308.57" y2="769.93" stroke="#858893" stroke-width="1.5"/>
<line x1="1309.00" y1="763.50" x2="1305.90" y2="763.50" stroke="#858893" stroke-width="1.5"/>
<line x1="1310.76" y1="759.26" x2="1308.57" y2="757.07" stroke="#858893" stroke-width="1.5"/>
<line x1="1315.00" y1="757.50" x2="1315.00" y2="754.40" stroke="#858893" stroke-width="1.5"/>
<line x1="1319.24" y1="759.26" x2="1321.43" y2="757.07" stroke="#858893" stroke-width="1.5"/>
</svg>
</body></html>
